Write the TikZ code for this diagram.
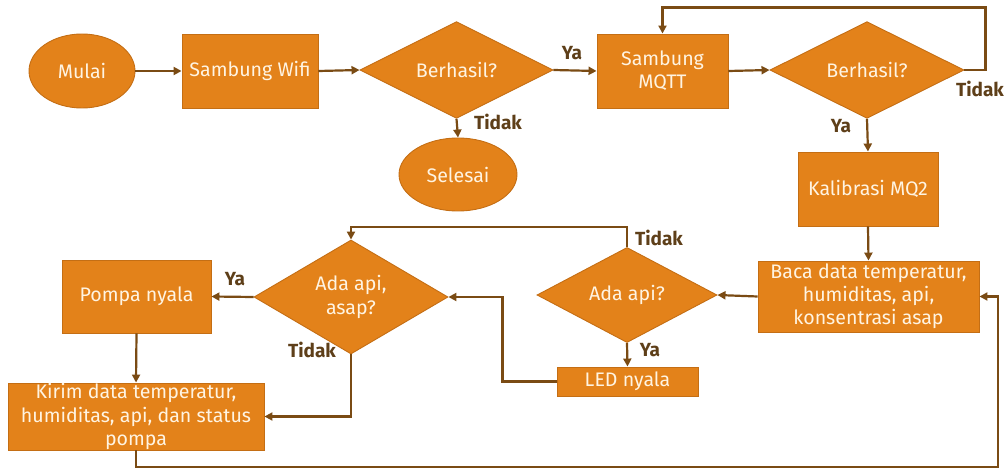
\documentclass[tikz,border=0pt]{standalone}
\usepackage{fontspec}
\setmainfont{Fira Sans}
\usetikzlibrary{shapes.geometric,arrows.meta,calc}
\definecolor{boxfill}{HTML}{E3821A}
\definecolor{boxedge}{HTML}{C46E14}
\definecolor{boxtext}{HTML}{FFF4E2}
\definecolor{flow}{HTML}{7A4B14}
\definecolor{lbl}{HTML}{5E3F19}
\tikzset{
  base/.style={fill=boxfill, draw=boxedge, line width=0.9pt, text=boxtext,
    font=\fontsize{19.6}{23.2}\selectfont, align=center, inner sep=0pt},
  terminal/.style={base, ellipse},
  process/.style={base, rectangle},
  decision/.style={base, diamond},
  arr/.style={draw=flow, line width=2.2pt, -{Triangle[length=8pt,width=8pt]}},
  lab/.style={text=lbl, font=\fontsize{19}{22}\selectfont\bfseries, inner sep=0pt},
}
\begin{document}
\begin{tikzpicture}[x=1pt,y=-1pt]
\useasboundingbox (0,0) rectangle (1005,468);

% top row
\node[terminal, minimum width=106pt, minimum height=74pt] (mulai) at (82,71) {Mulai};
\node[process, minimum width=136pt, minimum height=74pt] (wifi) at (250,71) {Sambung Wifi};
\node[decision, minimum width=193pt, minimum height=84pt] (cek1) at (456.5,70) {Berhasil?};
\node[terminal, minimum width=118pt, minimum height=73pt] (selesai) at (458,174.5) {Selesai};
\node[process, minimum width=131pt, minimum height=74pt] (mqtt) at (662.5,71) {Sambung\\MQTT};
\node[decision, minimum width=194pt, minimum height=84pt] (cek2) at (867,70) {Berhasil?};
\node[process, minimum width=140pt, minimum height=74pt] (kalib) at (868,189) {Kalibrasi MQ2};

% sensing and actions
\node[process, minimum width=221pt, minimum height=71pt, inner ysep=-3pt] (baca) at (868.5,296.5)
  {Baca data temperatur,\\humiditas, api,\\konsentrasi asap};
\node[decision, minimum width=180pt, minimum height=84pt] (api) at (627,295) {Ada api?};
\node[process, minimum width=141pt, minimum height=29pt, inner ysep=-3pt] (led) at (627.5,381.5) {LED nyala};
\node[decision, minimum width=194pt, minimum height=84pt] (asap) at (351,297) {Ada api,\\asap?};
\node[process, minimum width=149pt, minimum height=73pt] (pompa) at (136.5,296.5) {Pompa nyala};
\node[process, minimum width=256pt, minimum height=67pt, inner ysep=-4pt] (kirim) at (136,416.5)
  {Kirim data temperatur,\\humiditas, api, dan status\\pompa};

\coordinate (loopcorner) at (998,467.5);

% connectors
\draw[arr] (mulai.east) -- (wifi.west);
\draw[arr] (wifi.east) -- (cek1.west);
\draw[arr] (cek1.east) -- (mqtt.west);
\draw[arr] (cek1.south) -- (selesai.north);
\draw[arr] (mqtt.east) -- (cek2.west);
\draw[arr] (cek2.east) -- ++(21,0) |- ($(mqtt.north)+(0,-26)$) -- (mqtt.north);
\draw[arr] (cek2.south) -- (kalib.north);
\draw[arr] (kalib.south) -- (baca.north);
\draw[arr] (baca.west) -- (api.east);
\draw[arr] (api.north) -- ++(0,-20) -| (asap.north);
\draw[arr] (api.south) -- (led.north);
\draw[arr] (led.west) -- ++(-54,0) |- (asap.east);
\draw[arr] (asap.west) -- (pompa.east);
\draw[arr] (asap.south) |- (kirim.east);
\draw[arr] (pompa.south) -- (kirim.north);
\draw[arr] (kirim.south) |- (loopcorner) |- (baca.east);

% branch labels
\node[lab] (l1) at (572,53) {Ya};
\node[lab] (l2) at (498,122) {Tidak};
\node[lab] (l3) at (980,89) {Tidak};
\node[lab] (l4) at (841,126) {Ya};
\node[lab] (l5) at (659,238) {Tidak};
\node[lab] (l6) at (650,350) {Ya};
\node[lab] (l7) at (235,279) {Ya};
\node[lab] (l8) at (312,350) {Tidak};
\end{tikzpicture}
\end{document}
